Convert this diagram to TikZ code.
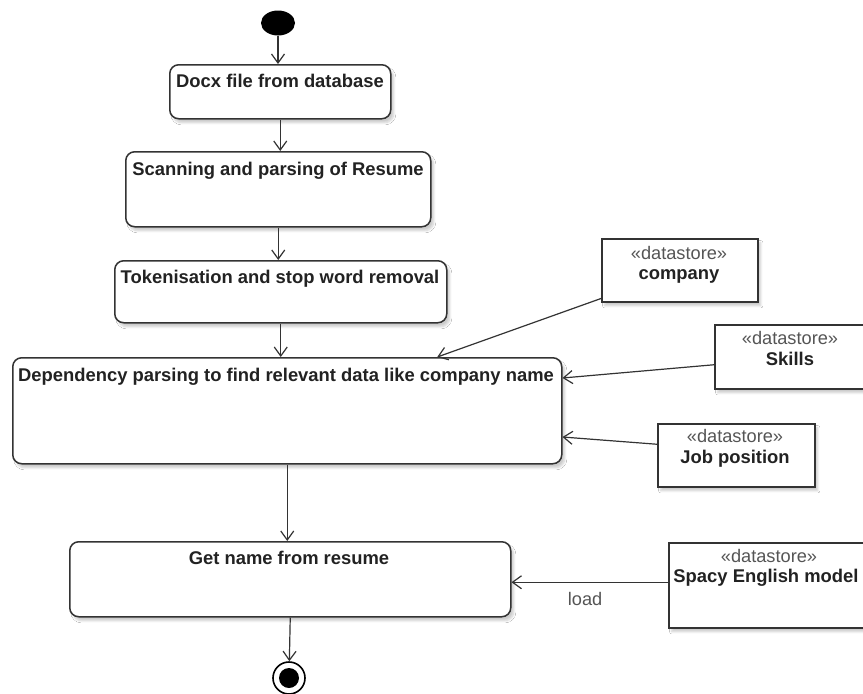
\documentclass[tikz,border=0pt]{standalone}
\usepackage{fontspec}
\setmainfont{Liberation Sans}
\usetikzlibrary{arrows.meta,shapes.geometric,shadows.blur}

\definecolor{edge}{HTML}{333333}
\definecolor{ink}{HTML}{222222}
\definecolor{soft}{HTML}{555555}

\begin{document}
\begin{tikzpicture}[x=1pt,y=-1pt,
  shade box/.style={blur shadow={shadow xshift=3pt,shadow yshift=-4pt,shadow blur steps=6,shadow opacity=20}},
  act/.style={draw=edge,line width=1.5pt,rounded corners=9pt,fill=white,shade box,
    anchor=north west,inner sep=0pt},
  store/.style={draw=edge,line width=1.5pt,fill=white,shade box,anchor=north west,inner sep=0pt},
  title/.style={anchor=base,inner sep=0pt,text=ink,font=\bfseries\fontsize{18.4}{20}\selectfont},
  stereo/.style={anchor=base,inner sep=0pt,text=soft,font=\fontsize{18.2}{20}\selectfont},
  flow/.style={draw=edge,line width=1.2pt,-{Straight Barb[length=9pt,width=13pt,line width=1.2pt]}}
]
\useasboundingbox (0,0) rectangle (863,694);
\fill[white] (0,0) rectangle (863,694);

% initial and final states
\node[ellipse,fill=black,minimum width=34pt,minimum height=25pt,inner sep=0pt] (start) at (278,23) {};
\node[circle,draw=black,line width=1.6pt,fill=white,minimum size=32pt,inner sep=0pt] (final) at (289,678) {};
\node[circle,fill=black,minimum size=20pt,inner sep=0pt] (finaldot) at (final.center) {};

% actions
\node[act,minimum width=221pt,minimum height=54pt] (docx) at (169,64) {};
\node[title] (docxt) at (280,87) {Docx file from database};

\node[act,minimum width=305pt,minimum height=75pt] (scan) at (125,151) {};
\node[title] (scant) at (278,175) {Scanning and parsing of Resume};

\node[act,minimum width=332pt,minimum height=62pt] (token) at (114,260) {};
\node[title] (tokent) at (280,283) {Tokenisation and stop word removal};

\node[act,minimum width=549pt,minimum height=106pt] (dep) at (12,357) {};
\node[title] (dept) at (286,381) {Dependency parsing to find relevant data like company name};

\node[act,minimum width=441pt,minimum height=75pt] (getname) at (69,541) {};
\node[title] (getnamet) at (289,564) {Get name from resume};

% data stores
\node[store,minimum width=156pt,minimum height=63pt] (company) at (601,238) {};
\node[stereo] (companys) at (679,259) {«datastore»};
\node[title] (companyt) at (679,279) {company};

\node[store,minimum width=160pt,minimum height=64pt] (skills) at (714,324) {};
\node[stereo] (skillss) at (790,344) {«datastore»};
\node[title] (skillst) at (790,365) {Skills};

\node[store,minimum width=157pt,minimum height=63pt] (job) at (657,423) {};
\node[stereo] (jobs) at (735,442) {«datastore»};
\node[title] (jobt) at (735,463) {Job position};

\node[store,minimum width=210pt,minimum height=85pt] (spacy) at (668,542) {};
\node[stereo] (spacys) at (769,562) {«datastore»};
\node[title] (spacyt) at (766,582) {Spacy English model};

% control flow
\draw[flow] (start) -- (start |- docx.north);
\draw[flow] (docx.south) -- (docx.south |- scan.north);
\draw[flow] (scan.south) -- (scan.south |- token.north);
\draw[flow] (token.south) -- (token.south |- dep.north);
\draw[flow] (dep.south) -- (dep.south |- getname.north);
\draw[flow] (getname.south) -- (final);

% object flow from the stores
\draw[flow] ([yshift=4pt]company.south west) -- ([xshift=150pt]dep.north);
\draw[flow] ([yshift=-8pt]skills.west) -- ([yshift=-21pt]dep.north east);
\draw[flow] ([yshift=11pt]job.west) -- ([yshift=-80pt]dep.north east);
\draw[flow] ([yshift=3pt]spacy.west) -- ([yshift=3pt]spacy.west -| getname.east)
  node[pos=0.53,below=9pt,inner sep=0pt,text=soft,font=\fontsize{18.2}{20}\selectfont] (loadl) {load};
\end{tikzpicture}
\end{document}
